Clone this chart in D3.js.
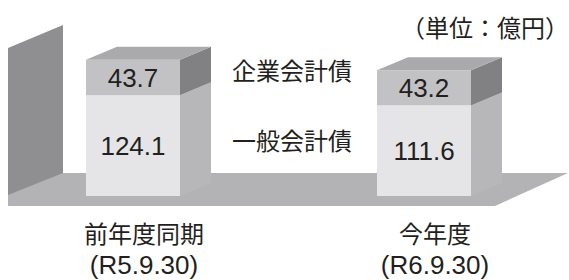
<!DOCTYPE html>
<html>
<head>
<meta charset="utf-8">
<script src="https://cdn.jsdelivr.net/npm/d3@7"></script>
<style>
  body { margin: 0; background: #fff; }
  svg { display: block; }
  .num { font-family: "Liberation Sans", Arial, sans-serif; fill: #231f20; }
  .jp { font-family: "Noto Sans CJK JP", sans-serif; fill: #231f20; }
</style>
</head>
<body>
<div id="chart"></div>
<script>
// data
const categories = ['前年度同期', '今年度'];
const dates = ['(R5.9.30)', '(R6.9.30)'];
const generalDebt = [124.1, 111.6];     // 一般会計債
const enterpriseDebt = [43.7, 43.2];    // 企業会計債
const seriesNames = ['一般会計債', '企業会計債'];
const unitLabel = '（単位：億円）';

const width = 569;
const height = 280;
const depth = { x: 31, y: -13 };

const svg = d3.select('#chart').append('svg')
  .attr('width', width)
  .attr('height', height);

const x = d3.scaleBand()
  .domain(categories)
  .range([86, 471])
  .paddingInner(0.677)
  .paddingOuter(0);

const y = d3.scaleLinear()
  .domain([0, 200])
  .range([196, 196 - 162.4]);

// floor and back wall
svg.append('path')
  .attr('d', 'M8,173 L568,173 L495,206 L8,206 Z')
  .attr('fill', '#b3b3b6');
svg.append('path')
  .attr('d', 'M8,48 L63,25 L63,173 L8,195 Z')
  .attr('fill', '#8f8f92');

// stacked data
const rows = categories.map((c, i) => ({
  cat: c,
  segs: [
    { name: seriesNames[0], v0: 0, v1: generalDebt[i], value: generalDebt[i], front: '#e5e5e7', side: '#b7b7ba' },
    { name: seriesNames[1], v0: generalDebt[i], v1: generalDebt[i] + enterpriseDebt[i], value: enterpriseDebt[i], front: '#c2c2c5', side: '#818184' }
  ]
}));

const bar = svg.selectAll('g.bar')
  .data(rows)
  .join('g')
  .attr('class', 'bar');

bar.each(function(d) {
  const g = d3.select(this);
  const x0 = x(d.cat);
  const x1 = x0 + x.bandwidth();

  d.segs.forEach(s => {
    const yt = y(s.v1), yb = y(s.v0);
    // side
    g.append('path')
      .attr('d', `M${x1},${yt} L${x1 + depth.x},${yt + depth.y} L${x1 + depth.x},${yb + depth.y} L${x1},${yb} Z`)
      .attr('fill', s.side);
    // front
    g.append('rect')
      .attr('x', x0).attr('y', yt)
      .attr('width', x.bandwidth()).attr('height', yb - yt)
      .attr('fill', s.front);
    // value
    g.append('text')
      .attr('class', 'num')
      .attr('x', x0 + x.bandwidth() / 2)
      .attr('y', (yt + yb) / 2 + 9.5)
      .attr('text-anchor', 'middle')
      .attr('font-size', 26)
      .text(s.value.toFixed(1));
  });

  // top
  const top = y(d.segs[1].v1);
  g.append('path')
    .attr('d', `M${x0},${top} L${x0 + depth.x},${top + depth.y} L${x1 + depth.x},${top + depth.y} L${x1},${top} Z`)
    .attr('fill', '#aaaaad');
});

// category labels
categories.forEach((c, i) => {
  const cx = x(c) + x.bandwidth() / 2 + 11;
  svg.append('text')
    .attr('class', 'jp')
    .attr('x', cx).attr('y', 243)
    .attr('text-anchor', 'middle')
    .attr('font-size', 24)
    .text(c);
  svg.append('text')
    .attr('class', 'num')
    .attr('x', cx).attr('y', 274)
    .attr('text-anchor', 'middle')
    .attr('font-size', 26)
    .text(dates[i]);
});

// series labels between bars
svg.append('text')
  .attr('class', 'jp')
  .attr('x', 292).attr('y', 80)
  .attr('text-anchor', 'middle')
  .attr('font-size', 24)
  .text(seriesNames[1]);
svg.append('text')
  .attr('class', 'jp')
  .attr('x', 292).attr('y', 150)
  .attr('text-anchor', 'middle')
  .attr('font-size', 24)
  .text(seriesNames[0]);

// unit
svg.append('text')
  .attr('class', 'jp')
  .attr('x', 569).attr('y', 37)
  .attr('text-anchor', 'end')
  .attr('font-size', 24)
  .text(unitLabel);
</script>
</body>
</html>
